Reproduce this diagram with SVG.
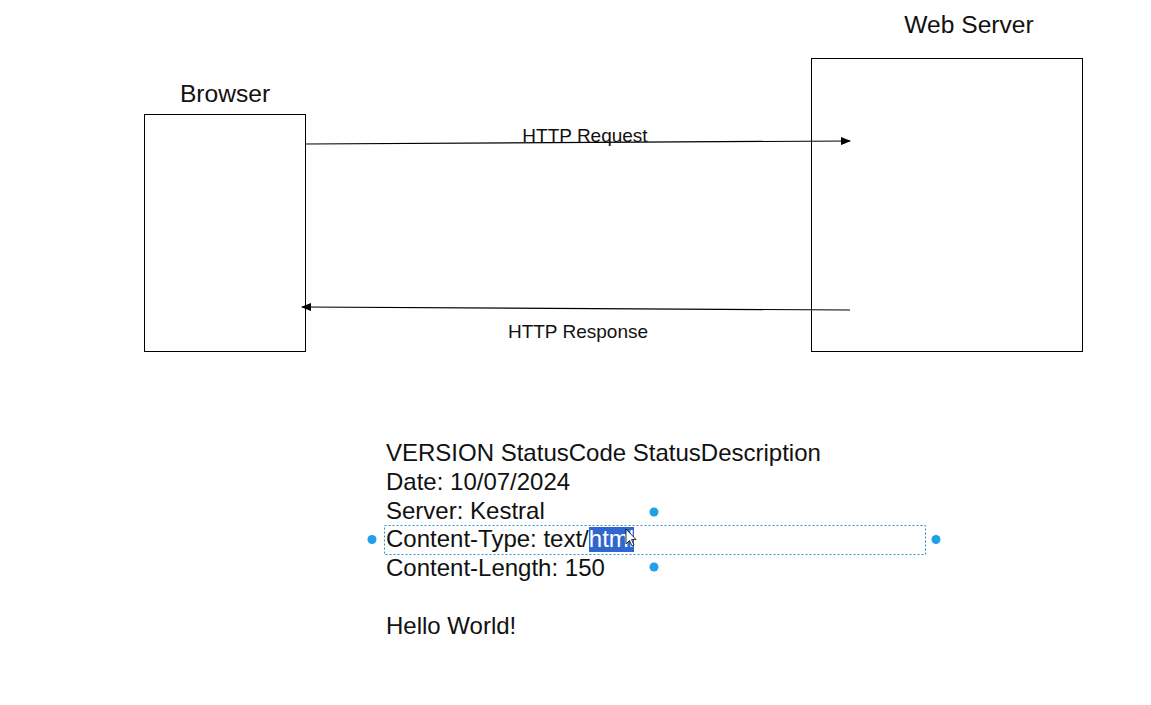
<svg xmlns="http://www.w3.org/2000/svg" width="1151" height="705" viewBox="0 0 1151 705">
<style>
.box{fill:#fff;stroke:#000;stroke-width:1}
.t{font-family:"Liberation Sans",Arial,sans-serif;fill:#111}
.lbl{font-size:24.6px;text-anchor:middle}
.edge{font-size:19px;text-anchor:middle}
.body{font-size:24px}
.conn{stroke:#000;stroke-width:1.2;fill:none}
.handle{fill:#1fa0e8}
</style>
<defs>
<marker id="arr" markerWidth="10" markerHeight="8" refX="9" refY="4" orient="auto" markerUnits="userSpaceOnUse">
<path d="M0,0 L10,4 L0,8 Z" fill="#000"/>
</marker>
</defs>
<rect width="1151" height="705" fill="#fff"/>
<g id="browser">
<rect class="box" x="144.5" y="114.5" width="161" height="237"/>
<text class="t lbl" x="225" y="102">Browser</text>
</g>
<g id="webserver">
<rect class="box" x="811.5" y="58.5" width="271" height="293"/>
<text class="t lbl" x="969" y="33">Web Server</text>
</g>
<g id="connectors">
<line class="conn" x1="306" y1="144" x2="850" y2="141" marker-end="url(#arr)"/>
<text class="t edge" x="585" y="142">HTTP Request</text>
<line class="conn" x1="850" y1="310" x2="302" y2="307" marker-end="url(#arr)"/>
<text class="t edge" x="578" y="338">HTTP Response</text>
</g>
<g id="response-text">
<rect x="384.5" y="525.5" width="541" height="29" fill="none" stroke="#2a8fd0" stroke-width="1" stroke-dasharray="2,2"/>
<rect x="589" y="527" width="45" height="25" fill="#2f66d0"/>
<text class="t body" x="386" y="461">VERSION StatusCode StatusDescription</text>
<text class="t body" x="386" y="490">Date: 10/07/2024</text>
<text class="t body" x="386" y="519">Server: Kestral</text>
<text class="t body" x="386" y="547">Content-Type: text/<tspan fill="#fff">html</tspan></text>
<text class="t body" x="386" y="576">Content-Length: 150</text>
<text class="t body" x="386" y="634">Hello World!</text>
<circle class="handle" cx="372" cy="539.5" r="4.5"/>
<circle class="handle" cx="936" cy="539.5" r="4.5"/>
<circle class="handle" cx="654" cy="512" r="4.5"/>
<circle class="handle" cx="654" cy="567" r="4.5"/>
<path d="M626,529 L626,544 L629.5,540.5 L632,546 L634,545 L631.5,539.5 L636,539.5 Z" fill="#fff" stroke="#000" stroke-width="0.8"/>
</g>
</svg>
